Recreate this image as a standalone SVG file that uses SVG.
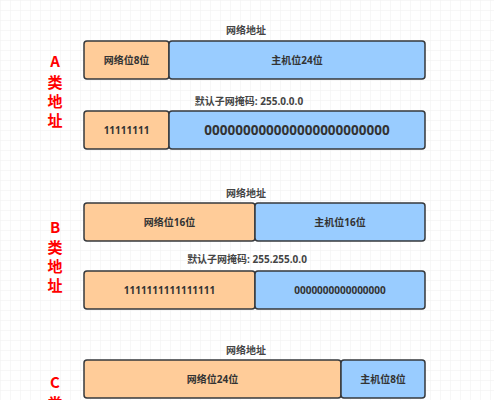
<svg xmlns="http://www.w3.org/2000/svg" width="494" height="400" viewBox="0 0 494 400">
<style>
.net{fill:#ffcc99;stroke:#36393d;stroke-width:1.5}
.host{fill:#99ccff;stroke:#36393d;stroke-width:1.5}
.t{font-family:"Open Sans","Noto Sans CJK SC",sans-serif;font-size:10px;font-weight:bold;fill:#333;text-anchor:middle}
.lbl{font-family:"Open Sans","Noto Sans CJK SC",sans-serif;font-size:10px;font-weight:bold;fill:#444;text-anchor:middle}
.big{font-family:"Open Sans","Noto Sans CJK SC",sans-serif;font-size:13.5px;font-weight:bold;fill:#333;text-anchor:middle}
.cls{font-family:"Noto Sans CJK SC",sans-serif;font-size:15px;font-weight:bold;fill:#ff0000;text-anchor:middle}
</style>
<defs>
<pattern id="grid" width="10" height="10" patternUnits="userSpaceOnUse">
<path d="M10 0H0V10" fill="none" stroke="#efefef" stroke-width="1"/>
</pattern>
</defs>
<rect width="494" height="400" fill="#ffffff"/>
<rect width="494" height="400" fill="url(#grid)"/>
<g id="classA">
<g id="A-label"><text class="cls" x="55" y="67">A</text><text class="cls" x="55" y="88">类</text><text class="cls" x="55" y="107">地</text><text class="cls" x="55" y="126">址</text></g>
<g id="A-net-title"><text class="lbl" x="246" y="34">网络地址</text></g>
<g id="A-net"><rect class="net" x="84" y="41" width="85" height="38" rx="3"/><text class="t" x="126.5" y="63.5">网络位8位</text></g>
<g id="A-host"><rect class="host" x="169" y="41" width="256" height="38" rx="3"/><text class="t" x="297" y="63.5">主机位24位</text></g>
<g id="A-mask-title"><text class="lbl" x="249" y="105">默认子网掩码: 255.0.0.0</text></g>
<g id="A-mask-net"><rect class="net" x="84" y="111" width="85" height="38" rx="3"/><text class="t" x="126.5" y="133.5">11111111</text></g>
<g id="A-mask-host"><rect class="host" x="169" y="111" width="256" height="38" rx="3"/><text class="big" x="297" y="135">000000000000000000000000</text></g>
</g>
<g id="classB">
<g id="B-label"><text class="cls" x="55" y="233">B</text><text class="cls" x="55" y="253">类</text><text class="cls" x="55" y="272">地</text><text class="cls" x="55" y="291">址</text></g>
<g id="B-net-title"><text class="lbl" x="246" y="197">网络地址</text></g>
<g id="B-net"><rect class="net" x="84" y="203" width="171" height="38" rx="3"/><text class="t" x="169.5" y="225.5">网络位16位</text></g>
<g id="B-host"><rect class="host" x="255" y="203" width="170" height="38" rx="3"/><text class="t" x="340" y="225.5">主机位16位</text></g>
<g id="B-mask-title"><text class="lbl" x="247" y="263">默认子网掩码: 255.255.0.0</text></g>
<g id="B-mask-net"><rect class="net" x="84" y="271" width="171" height="38" rx="3"/><text class="t" x="169.5" y="294">1111111111111111</text></g>
<g id="B-mask-host"><rect class="host" x="255" y="271" width="170" height="38" rx="3"/><text class="t" x="340" y="294">0000000000000000</text></g>
</g>
<g id="classC">
<g id="C-label"><text class="cls" x="55" y="388">C</text><text class="cls" x="55" y="409">类</text></g>
<g id="C-net-title"><text class="lbl" x="246" y="354">网络地址</text></g>
<g id="C-net"><rect class="net" x="84" y="360" width="257" height="38" rx="3"/><text class="t" x="212.5" y="383">网络位24位</text></g>
<g id="C-host"><rect class="host" x="341" y="360" width="84" height="38" rx="3"/><text class="t" x="383" y="383">主机位8位</text></g>
</g>
<g id="connectors"/>
</svg>
